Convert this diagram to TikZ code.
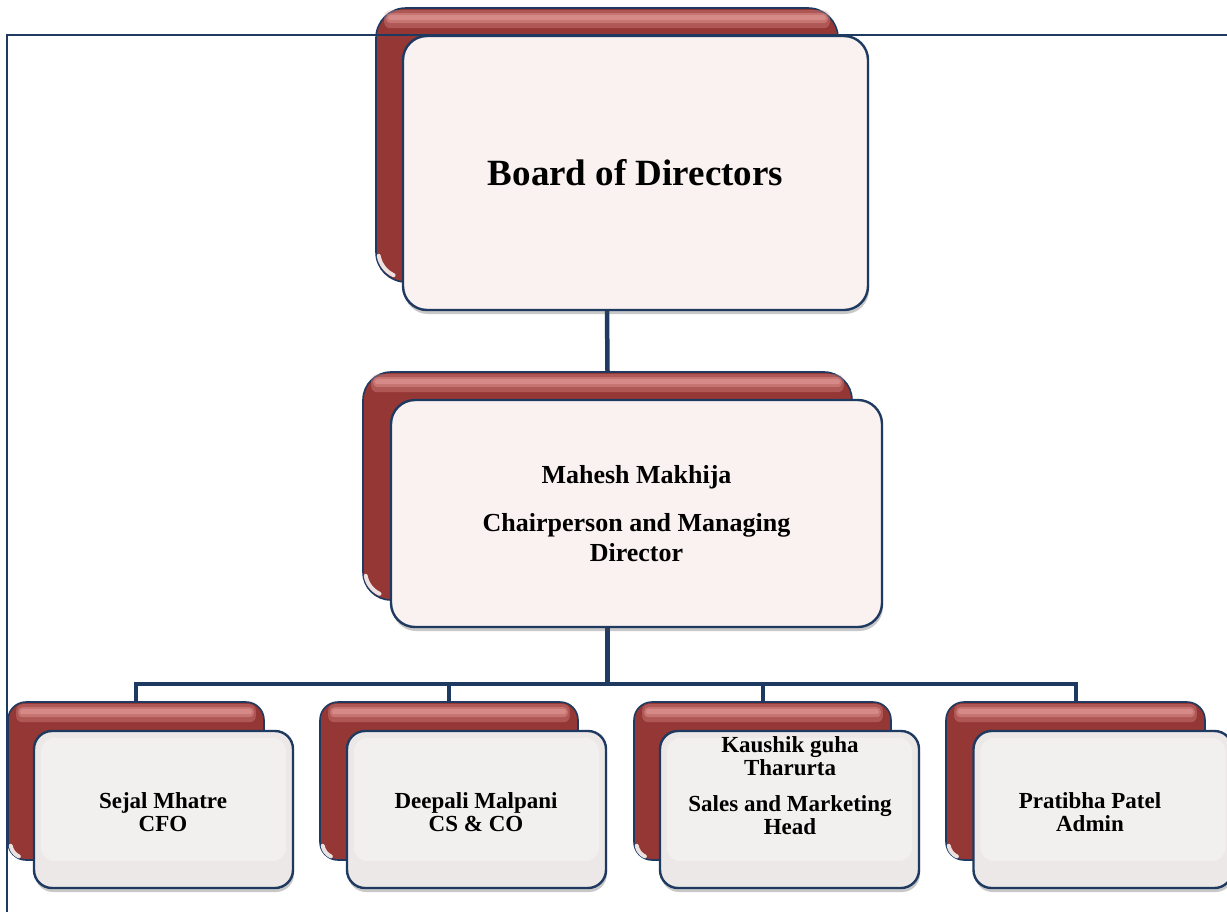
\documentclass[tikz,border=0pt]{standalone}
\usepackage{fontspec}
\setmainfont{Liberation Serif}
\usetikzlibrary{shadows}

\definecolor{navy}{HTML}{1F3A60}
\definecolor{redbox}{HTML}{953735}
\definecolor{redlite}{HTML}{E8A19D}
\definecolor{paperpink}{HTML}{FAF2F1}
\definecolor{papergrey}{HTML}{EDE8E8}
\definecolor{papergloss}{HTML}{F2EFEF}

\tikzset{
  backbox/.style={draw=navy, line width=1.6pt, fill=redbox, rounded corners=#1},
  frontbox/.style={draw=navy, line width=2.4pt, fill=#1, rounded corners=24pt,
    drop shadow={shadow xshift=1pt, shadow yshift=-4pt, opacity=0.3, fill=black!70}},
  link/.style={draw=navy, line width=4.5pt},
  frame/.style={draw=navy, line width=2.5pt},
  toptext/.style={font=\bfseries\fontsize{37}{40}\selectfont, align=center},
  midtext/.style={font=\bfseries\fontsize{26}{30}\selectfont, align=center},
  lowtext/.style={font=\bfseries\fontsize{23}{23}\selectfont, align=center},
}

% glossy stripe along the top of a red card, and a white glint in its lower left corner
% #1 = node name, #2 = corner radius
\newcommand\cardgloss[2]{%
  \fill[redlite, opacity=0.3, rounded corners=6pt]
    ([xshift=9pt,yshift=-3pt]#1.north west) rectangle ([xshift=-9pt,yshift=-21pt]#1.north east);
  \fill[redlite, opacity=0.4, rounded corners=4pt]
    ([xshift=11pt,yshift=-6pt]#1.north west) rectangle ([xshift=-11pt,yshift=-16pt]#1.north east);
  \fill[redlite, opacity=0.5, rounded corners=2pt]
    ([xshift=13pt,yshift=-8pt]#1.north west) rectangle ([xshift=-13pt,yshift=-13pt]#1.north east);
  \draw[white, line width=4pt, opacity=0.85, line cap=round]
    ([xshift=3.5pt,yshift=#2-3pt]#1.south west) arc[start angle=190, end angle=245, radius=#2-3.5pt];
}

\begin{document}
\begin{tikzpicture}[x=1pt, y=-1pt]
  \useasboundingbox (0,0) rectangle (1227,911);
  \clip (0,0) rectangle (1227,911);
  \fill[white] (0,0) rectangle (1227,911);

  % back (red) cards
  \node[backbox=30pt, minimum width=462pt, minimum height=274pt] (bodB) at (607,145) {};
  \node[backbox=28pt, minimum width=489pt, minimum height=228pt] (mdB) at (607.5,486) {};
  \node[backbox=18pt, minimum width=256pt, minimum height=158pt] (b1B) at (136,781) {};
  \node[backbox=18pt, minimum width=258pt, minimum height=158pt] (b2B) at (449,781) {};
  \node[backbox=18pt, minimum width=257pt, minimum height=158pt] (b3B) at (762.5,781) {};
  \node[backbox=18pt, minimum width=259pt, minimum height=158pt] (b4B) at (1075.5,781) {};
  \cardgloss{bodB}{30pt}
  \cardgloss{mdB}{28pt}
  \cardgloss{b1B}{18pt}
  \cardgloss{b2B}{18pt}
  \cardgloss{b3B}{18pt}
  \cardgloss{b4B}{18pt}

  % page frame
  \draw[frame] (7,35) rectangle (1245,930);

  % connectors
  \coordinate (bus) at (607.5,684);
  \draw[link] (bodB.center |- 0,308) -- (mdB.north);
  \draw[link] (mdB.center |- 0,625) -- (bus);
  \draw[link, line width=4pt] (b1B.north) |- (bus) -| (b4B.north);
  \draw[link, line width=4pt] (b2B.north) -- (b2B.north |- bus);
  \draw[link, line width=4pt] (b3B.north) -- (b3B.north |- bus);

  % front cards
  \node[frontbox=paperpink, minimum width=465pt, minimum height=274pt, toptext] (bod) at (635.5,173)
    {Board of Directors};
  \node[frontbox=paperpink, minimum width=491pt, minimum height=227pt, midtext] (md) at (636.5,513.5)
    {Mahesh Makhija\\[18pt]Chairperson and Managing\\Director};
  \node[frontbox=papergrey, rounded corners=18pt, minimum width=259pt, minimum height=157pt] (b1) at (163.5,809.5) {};
  \node[frontbox=papergrey, rounded corners=18pt, minimum width=259pt, minimum height=157pt] (b2) at (476.5,809.5) {};
  \node[frontbox=papergrey, rounded corners=18pt, minimum width=259pt, minimum height=157pt] (b3) at (789.5,809.5) {};
  \node[frontbox=papergrey, rounded corners=18pt, minimum width=259pt, minimum height=157pt] (b4) at (1103,809.5) {};

  % soft lighter panel inside the lower cards
  \foreach \c in {b1,b2,b3,b4}
    \fill[papergloss, rounded corners=14pt]
      ([xshift=8pt,yshift=-8pt]\c.north west) rectangle ([xshift=-8pt,yshift=28pt]\c.south east);

  % card texts
  \node[lowtext] (b1t) at (163,812) {Sejal Mhatre\\CFO};
  \node[lowtext] (b2t) at (476,812) {Deepali Malpani\\CS \& CO};
  \node[lowtext] (b3t) at (790,786) {Kaushik guha\\Tharurta\\[13pt]Sales and Marketing\\Head};
  \node[lowtext] (b4t) at (1090,812) {Pratibha Patel\\Admin};
\end{tikzpicture}
\end{document}
